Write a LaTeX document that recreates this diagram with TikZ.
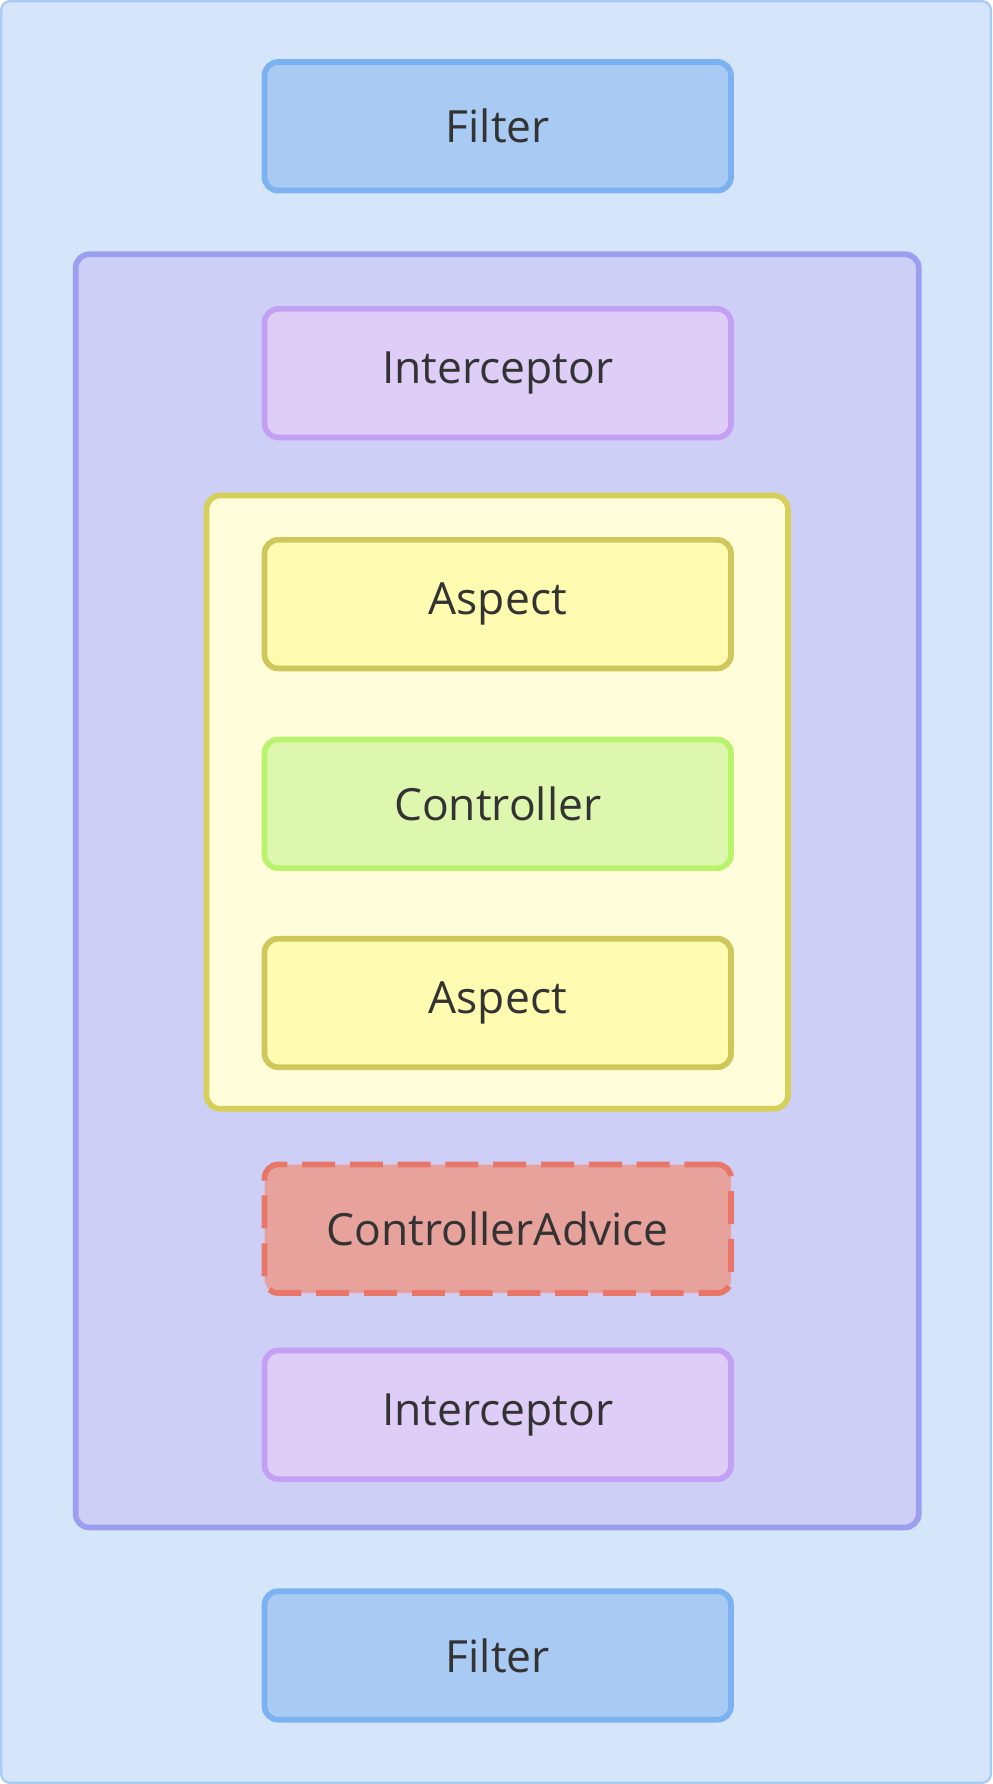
\documentclass[tikz,border=0pt]{standalone}
\usepackage{fontspec}
\setmainfont{Open Sans}
\usepackage{tikz}
\usetikzlibrary{positioning,fit}
\definecolor{bgfill}{HTML}{D5E5FA}
\definecolor{bgline}{HTML}{A9CBF3}
\definecolor{filterfill}{HTML}{A9CBF3}
\definecolor{filterline}{HTML}{7DB2F2}
\definecolor{mvcfill}{HTML}{CDCFF7}
\definecolor{mvcline}{HTML}{9C9EF0}
\definecolor{icptfill}{HTML}{DDCDF7}
\definecolor{icptline}{HTML}{C3A0F3}
\definecolor{aopfill}{HTML}{FFFDDA}
\definecolor{aopline}{HTML}{D6CF5A}
\definecolor{aspfill}{HTML}{FFFBB0}
\definecolor{aspline}{HTML}{CFC75B}
\definecolor{ctrlfill}{HTML}{DDF8AE}
\definecolor{ctrlline}{HTML}{B9F26D}
\definecolor{advfill}{HTML}{E7A29C}
\definecolor{advline}{HTML}{E8776A}
\definecolor{txt}{HTML}{333333}
\tikzset{x=1pt,y=-1pt,every node/.style={font=\fontsize{39}{42}\selectfont,text=txt},
  box/.style={rectangle,rounded corners=12pt,line width=5pt,minimum width=410pt,minimum height=113pt,inner sep=0pt},
  filter/.style={box,draw=filterline,fill=filterfill},
  icpt/.style={box,draw=icptline,fill=icptfill},
  asp/.style={box,draw=aspline,fill=aspfill},
  ctrl/.style={box,draw=ctrlline,fill=ctrlfill},
  adv/.style={box,draw=advline,fill=advfill,dash pattern=on 29pt off 13pt}}

\begin{document}
\begin{tikzpicture}
    \useasboundingbox (0,0) rectangle (872,1568);
    \draw[bgline,fill=bgfill,line width=2pt,rounded corners=8pt] (1,1) rectangle (871,1567);
    % containers
    \draw[mvcline,fill=mvcfill,line width=5pt,rounded corners=12pt] (66.5,223.5) rectangle (807.5,1342.5);
    \draw[aopline,fill=aopfill,line width=5pt,rounded corners=12pt] (181.5,435.5) rectangle (692.5,974.5);
    % boxes
    \node[filter] (filter1) at (437.5,111) {Filter};
    \node[icpt] (icpt1) at (437.5,328) {Interceptor};
    \node[asp] (asp1) at (437.5,531) {Aspect};
    \node[ctrl] (ctrl) at (437.5,706.5) {Controller};
    \node[asp] (asp2) at (437.5,881.5) {Aspect};
    \node[adv] (adv) at (437.5,1080) {ControllerAdvice};
    \node[icpt] (icpt2) at (437.5,1243.5) {Interceptor};
    \node[filter] (filter2) at (437.5,1455) {Filter};
\end{tikzpicture}
\end{document}
